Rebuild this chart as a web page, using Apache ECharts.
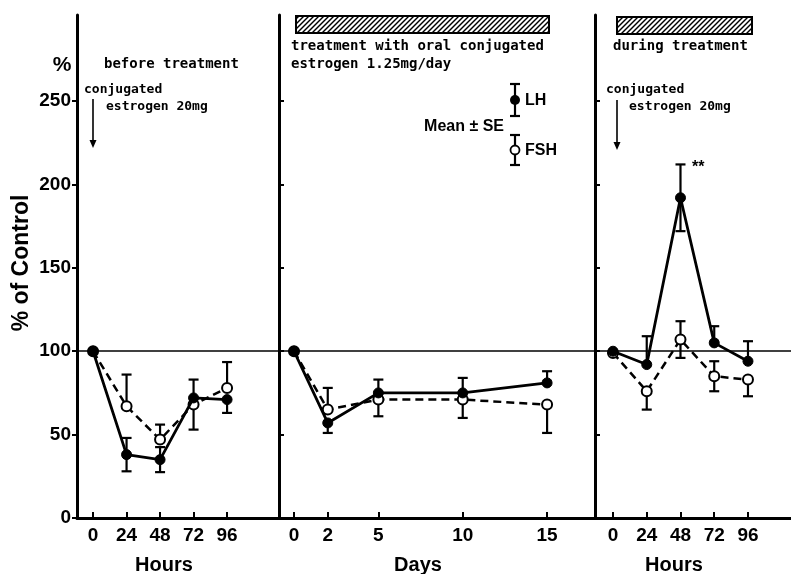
<!DOCTYPE html>
<html><head><meta charset="utf-8">
<script src="https://cdn.jsdelivr.net/npm/echarts@6/dist/echarts.min.js"></script>
<style>html,body{margin:0;padding:0;background:#fff}#c{width:791px;height:574px}</style>
</head><body><div id="c"></div>
<script>
// ---------- data ----------
const hoursX = [0, 24, 48, 72, 96];
const daysX = [0, 2, 5, 10, 15];
const yTicks = [0, 50, 100, 150, 200, 250];

// before treatment (hours)
const beforeLH = [100, 38, 35, 72, 71];
const beforeLH_SE = [0, 10, 7.5, 0, 8];
const beforeLH_side = ['none', 'both', 'both', 'none', 'down'];
const beforeFSH = [100, 67, 47, 68, 78];
const beforeFSH_SE = [0, 19, 9, 15, 15.5];
const beforeFSH_side = ['none', 'up', 'up', 'both', 'up'];

// treatment with oral conjugated estrogen (days)
const treatLH = [100, 57, 75, 75, 81];
const treatLH_SE = [0, 6, 8, 9, 7];
const treatLH_side = ['none', 'down', 'up', 'up', 'up'];
const treatFSH = [100, 65, 71, 71, 68];
const treatFSH_SE = [0, 13, 10, 11, 17];
const treatFSH_side = ['none', 'up', 'down', 'down', 'down'];

// during treatment (hours)
const duringLH = [100, 92, 192, 105, 94];
const duringLH_SE = [0, 17, 20, 10, 12];
const duringLH_side = ['none', 'up', 'both', 'up', 'up'];
const duringFSH = [99, 76, 107, 85, 83];
const duringFSH_SE = [0, 11, 11, 9, 10];
const duringFSH_side = ['none', 'down', 'both', 'both', 'down'];

// ---------- chart ----------
const SIDE = {none: 0, up: 1, down: 2, both: 3};
const SANS = '"Liberation Sans",Arial,sans-serif';
const MONO = '"DejaVu Sans Mono","Liberation Mono",monospace';

const chart = echarts.init(document.getElementById('c'), null, {renderer: 'canvas'});

function pairs(xs, ys) { return xs.map((x, i) => [x, ys[i]]); }
function errData(xs, ys, se, side) { return xs.map((x, i) => [x, ys[i], se[i], SIDE[side[i]]]); }

function renderErr(params, api) {
  const x = api.value(0), y = api.value(1), e = api.value(2), s = api.value(3);
  if (!s || !e) return null;
  const c = api.coord([x, y]);
  const children = [];
  const cap = 5;
  const sty = {stroke: '#000', lineWidth: 2.2};
  if (s === 1 || s === 3) {
    const t = api.coord([x, y + e]);
    children.push({type: 'line', shape: {x1: c[0], y1: c[1], x2: t[0], y2: t[1]}, style: sty});
    children.push({type: 'line', shape: {x1: t[0] - cap, y1: t[1], x2: t[0] + cap, y2: t[1]}, style: sty});
  }
  if (s === 2 || s === 3) {
    const b = api.coord([x, y - e]);
    children.push({type: 'line', shape: {x1: c[0], y1: c[1], x2: b[0], y2: b[1]}, style: sty});
    children.push({type: 'line', shape: {x1: b[0] - cap, y1: b[1], x2: b[0] + cap, y2: b[1]}, style: sty});
  }
  return {type: 'group', children};
}

function panelSeries(idx, xs, lh, lhSE, lhSide, fsh, fshSE, fshSide) {
  return [
    {type: 'custom', xAxisIndex: idx, yAxisIndex: idx, renderItem: renderErr,
     data: errData(xs, lh, lhSE, lhSide), z: 2, silent: true},
    {type: 'custom', xAxisIndex: idx, yAxisIndex: idx, renderItem: renderErr,
     data: errData(xs, fsh, fshSE, fshSide), z: 2, silent: true},
    {type: 'line', xAxisIndex: idx, yAxisIndex: idx, data: pairs(xs, fsh), z: 3,
     symbol: 'circle', symbolSize: 10, showAllSymbol: true,
     lineStyle: {color: '#000', width: 2.5, type: [8, 5]},
     itemStyle: {color: '#fff', borderColor: '#000', borderWidth: 2},
     markLine: {silent: true, symbol: 'none', label: {show: false},
       lineStyle: {color: '#000', width: 1.5, type: 'solid'}, data: [{yAxis: 100}]}},
    {type: 'line', xAxisIndex: idx, yAxisIndex: idx, data: pairs(xs, lh), z: 4,
     symbol: 'circle', symbolSize: 10, showAllSymbol: true,
     lineStyle: {color: '#000', width: 2.8},
     itemStyle: {color: '#000', borderColor: '#000', borderWidth: 1}}
  ];
}

const YMAX = 301.6;
function yAxis(idx, withLabels, tickInside) {
  return {type: 'value', gridIndex: idx, min: 0, max: YMAX,
    axisLine: {show: true, onZero: false, lineStyle: {color: '#000', width: 3}},
    axisTick: {show: true, inside: tickInside, length: 5, lineStyle: {color: '#000', width: 2}, customValues: yTicks},
    axisLabel: {show: withLabels, customValues: yTicks, color: '#000', fontFamily: SANS, fontWeight: 'bold', fontSize: 19, margin: 6},
    splitLine: {show: false}};
}
function xAxis(idx, min, max, ticks) {
  return {type: 'value', gridIndex: idx, min, max,
    axisLine: {show: true, onZero: false, lineStyle: {color: '#000', width: 3}},
    axisTick: {show: true, inside: true, length: 6, lineStyle: {color: '#000', width: 2}, customValues: ticks},
    axisLabel: {customValues: ticks, color: '#000', fontFamily: SANS, fontWeight: 'bold', fontSize: 19, margin: 8},
    splitLine: {show: false}};
}

// hatch pattern
const pc = document.createElement('canvas');
pc.width = 5; pc.height = 5;
const g = pc.getContext('2d');
g.fillStyle = '#fff'; g.fillRect(0, 0, 5, 5);
g.strokeStyle = '#000'; g.lineWidth = 1.4;
g.beginPath(); g.moveTo(-1, 6); g.lineTo(6, -1); g.stroke();
g.beginPath(); g.moveTo(-1, 1); g.lineTo(1, -1); g.stroke();
g.beginPath(); g.moveTo(4, 6); g.lineTo(6, 4); g.stroke();
const hatch = {image: pc, repeat: 'repeat'};

function monoText(x, y, text, size) {
  return {type: 'text', x, y, style: {text, fill: '#000', font: 'bold ' + (size || 14) + 'px ' + MONO, verticalAlign: 'middle'}, z: 10};
}
function arrow(x, y1, y2) {
  return [
    {type: 'line', shape: {x1: x, y1, x2: x, y2: y2 - 6}, style: {stroke: '#000', lineWidth: 1.6}, z: 10},
    {type: 'polygon', shape: {points: [[x - 3.5, y2 - 8], [x + 3.5, y2 - 8], [x, y2]]}, style: {fill: '#000'}, z: 10}
  ];
}
function legendBar(x, yc, half) {
  return [
    {type: 'line', shape: {x1: x, y1: yc - half, x2: x, y2: yc + half}, style: {stroke: '#000', lineWidth: 2.2}, z: 10},
    {type: 'line', shape: {x1: x - 5, y1: yc - half, x2: x + 5, y2: yc - half}, style: {stroke: '#000', lineWidth: 2.2}, z: 10},
    {type: 'line', shape: {x1: x - 5, y1: yc + half, x2: x + 5, y2: yc + half}, style: {stroke: '#000', lineWidth: 2.2}, z: 10}
  ];
}

const graphics = [
  // hatched bars
  {type: 'rect', shape: {x: 296, y: 16, width: 253, height: 17}, style: {fill: hatch, stroke: '#000', lineWidth: 2}, z: 10},
  {type: 'rect', shape: {x: 617, y: 17, width: 135, height: 17}, style: {fill: hatch, stroke: '#000', lineWidth: 2}, z: 10},
  // y name and %
  {type: 'text', x: 62, y: 65, style: {text: '%', fill: '#000', font: 'bold 21px ' + SANS, align: 'center', verticalAlign: 'middle'}, z: 10},
  {type: 'text', x: 22, y: 263, rotation: Math.PI / 2, style: {text: '% of Control', fill: '#000', font: 'bold 23px ' + SANS, align: 'center', verticalAlign: 'middle'}, z: 10},
  // panel texts
  monoText(104, 64, 'before treatment', 14),
  monoText(84, 90, 'conjugated', 13),
  monoText(106, 107, 'estrogen 20mg', 13),
  ...arrow(93, 99, 148),
  monoText(291, 46, 'treatment with oral conjugated', 14),
  monoText(291, 64, 'estrogen 1.25mg/day', 14),
  monoText(613, 46, 'during treatment', 14),
  monoText(606, 90, 'conjugated', 13),
  monoText(629, 107, 'estrogen 20mg', 13),
  ...arrow(617, 100, 150),
  {type: 'text', x: 692, y: 168, style: {text: '**', fill: '#000', font: 'bold 16px ' + SANS, verticalAlign: 'middle'}, z: 10},
  // legend
  ...legendBar(515, 100, 16),
  {type: 'circle', shape: {cx: 515, cy: 100, r: 5}, style: {fill: '#000'}, z: 11},
  {type: 'text', x: 525, y: 101, style: {text: 'LH', fill: '#000', font: 'bold 16px ' + SANS, verticalAlign: 'middle'}, z: 10},
  ...legendBar(515, 150, 15),
  {type: 'circle', shape: {cx: 515, cy: 150, r: 4.5}, style: {fill: '#fff', stroke: '#000', lineWidth: 1.8}, z: 11},
  {type: 'text', x: 525, y: 151, style: {text: 'FSH', fill: '#000', font: 'bold 16px ' + SANS, verticalAlign: 'middle'}, z: 10},
  {type: 'text', x: 504, y: 127, style: {text: 'Mean ± SE', fill: '#000', font: 'bold 16px ' + SANS, align: 'right', verticalAlign: 'middle'}, z: 10},
  // axis names
  {type: 'text', x: 164, y: 565, style: {text: 'Hours', fill: '#000', font: 'bold 20px ' + SANS, align: 'center', verticalAlign: 'middle'}, z: 10},
  {type: 'text', x: 418, y: 565, style: {text: 'Days', fill: '#000', font: 'bold 20px ' + SANS, align: 'center', verticalAlign: 'middle'}, z: 10},
  {type: 'text', x: 674, y: 565, style: {text: 'Hours', fill: '#000', font: 'bold 20px ' + SANS, align: 'center', verticalAlign: 'middle'}, z: 10}
];

const option = {
  animation: false,
  backgroundColor: '#fff',
  grid: [
    {left: 77, top: 15, width: 202, height: 503},
    {left: 279, top: 15, width: 316, height: 503},
    {left: 595, top: 15, width: 196, height: 503}
  ],
  xAxis: [
    xAxis(0, -11.5, 133.2, hoursX),
    xAxis(1, -0.89, 17.84, daysX),
    xAxis(2, -12.8, 126.6, hoursX)
  ],
  yAxis: [yAxis(0, true, false), yAxis(1, false, true), yAxis(2, false, true)],
  series: [
    ...panelSeries(0, hoursX, beforeLH, beforeLH_SE, beforeLH_side, beforeFSH, beforeFSH_SE, beforeFSH_side),
    ...panelSeries(1, daysX, treatLH, treatLH_SE, treatLH_side, treatFSH, treatFSH_SE, treatFSH_side),
    ...panelSeries(2, hoursX, duringLH, duringLH_SE, duringLH_side, duringFSH, duringFSH_SE, duringFSH_side)
  ],
  graphic: graphics
};
chart.setOption(option);
</script></body></html>
